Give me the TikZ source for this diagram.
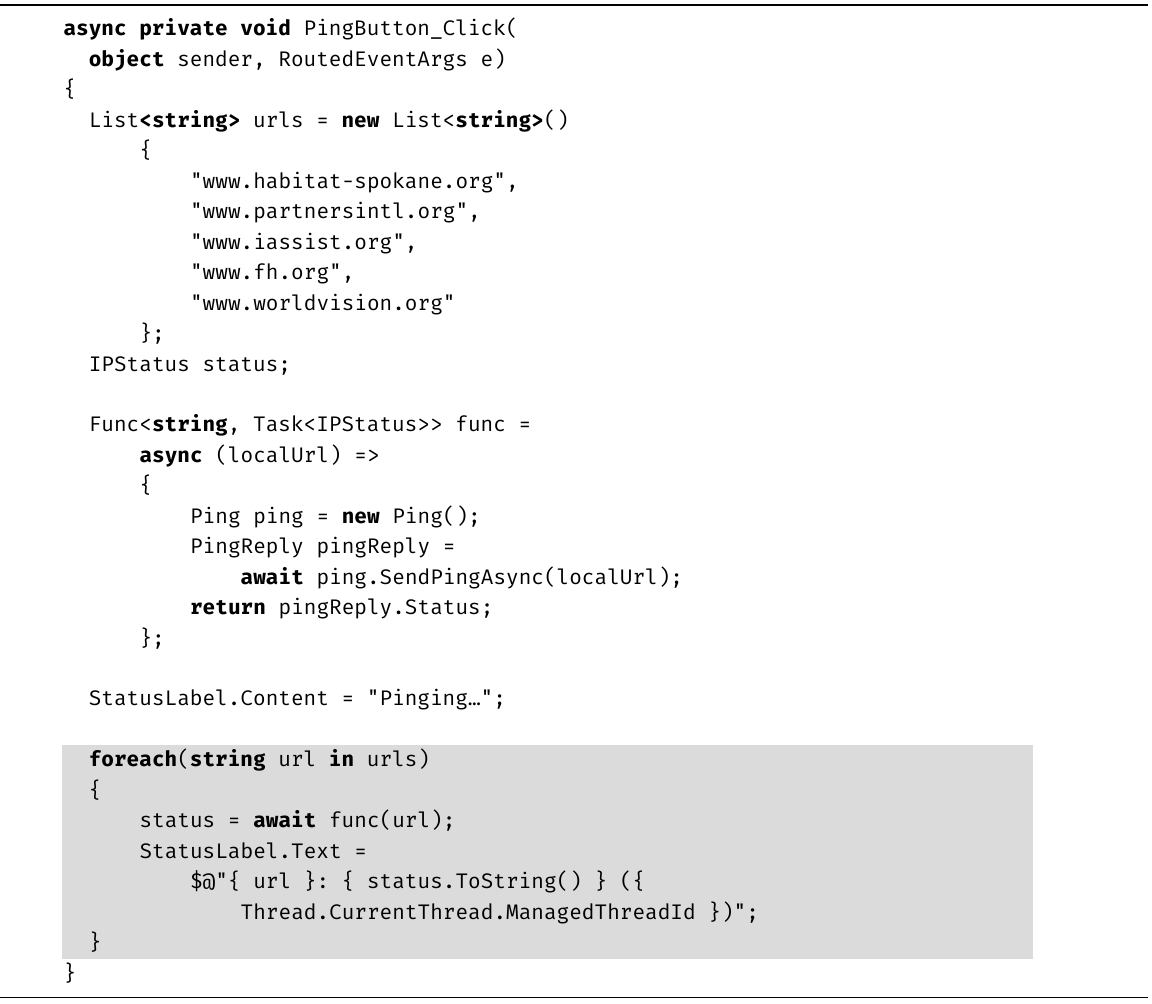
\documentclass[tikz,border=0pt]{standalone}
\usepackage{fontspec}
\setmonofont{Fira Mono}[BoldFont={Fira Mono Bold}]
\definecolor{shade}{RGB}{219,219,219}
\newcommand{\kw}[1]{\textbf{#1}}
\tikzset{every picture/.style={line width=0.75pt}}
\tikzset{code/.style={anchor=base west, inner sep=0pt, font=\fontsize{15.8}{22.8}\selectfont\ttfamily}}

\begin{document}
\begin{tikzpicture}[x=0.75pt,y=0.75pt,yscale=-1,xscale=1]
\useasboundingbox (0,0) rectangle (1152,1003);

%Shape: Rectangle [id:shade]
\fill [color=shade] (62,745) rectangle (1033,959);
%Straight Lines [id:top rule]
\draw [line width=1.1pt] (0,5) -- (1148,5);
%Straight Lines [id:bottom rule]
\draw [line width=1.1pt] (0,997.5) -- (1148,997.5);

% Text Node
\node (l1) [code] at (63,36) {\kw{async} \kw{private} \kw{void} PingButton\_Click(};
% Text Node
\node (l2) [code] at (88.3,66.5) {\kw{object} sender, RoutedEventArgs e)};
% Text Node
\node (l3) [code] at (63,96.9) {\{};
% Text Node
\node (l4) [code] at (88.3,127.4) {List\kw{<string>} urls = \kw{new} List<\kw{string>}()};
% Text Node
\node (l5) [code] at (139,157.8) {\{};
% Text Node
\node (l6) [code] at (189.6,188.3) {"www.habitat-spokane.org",};
% Text Node
\node (l7) [code] at (189.6,218.7) {"www.partnersintl.org",};
% Text Node
\node (l8) [code] at (189.6,249.2) {"www.iassist.org",};
% Text Node
\node (l9) [code] at (189.6,279.6) {"www.fh.org",};
% Text Node
\node (l10) [code] at (189.6,310.1) {"www.worldvision.org"};
% Text Node
\node (l11) [code] at (139,340.5) {\};};
% Text Node
\node (l12) [code] at (88.3,371) {IPStatus status;};
% Text Node
\node (l14) [code] at (88.3,431.9) {Func<\kw{string}, Task<IPStatus>> func =};
% Text Node
\node (l15) [code] at (139,462.3) {\kw{async} (localUrl) =>};
% Text Node
\node (l16) [code] at (139,492.8) {\{};
% Text Node
\node (l17) [code] at (189.6,523.2) {Ping ping = \kw{new} Ping();};
% Text Node
\node (l18) [code] at (189.6,553.7) {PingReply pingReply =};
% Text Node
\node (l19) [code] at (240.2,584.1) {\kw{await} ping.SendPingAsync(localUrl);};
% Text Node
\node (l20) [code] at (189.6,614.6) {\kw{return} pingReply.Status;};
% Text Node
\node (l21) [code] at (139,645) {\};};
% Text Node
\node (l23) [code] at (88.3,705.9) {StatusLabel.Content = "Pinging…";};
% Text Node
\node (l25) [code] at (88.3,766.8) {\kw{foreach}(\kw{string} url \kw{in} urls)};
% Text Node
\node (l26) [code] at (88.3,797.3) {\{};
% Text Node
\node (l27) [code] at (139,827.7) {status = \kw{await} func(url);};
% Text Node
\node (l28) [code] at (139,858.2) {StatusLabel.Text =};
% Text Node
\node (l29) [code] at (189.6,888.6) {\$@"\{ url \}: \{ status.ToString() \} (\{};
% Text Node
\node (l30) [code] at (240.2,919.1) {Thread.CurrentThread.ManagedThreadId \})";};
% Text Node
\node (l31) [code] at (88.3,949.5) {\}};
% Text Node
\node (l32) [code] at (63,980) {\}};

\end{tikzpicture}
\end{document}
